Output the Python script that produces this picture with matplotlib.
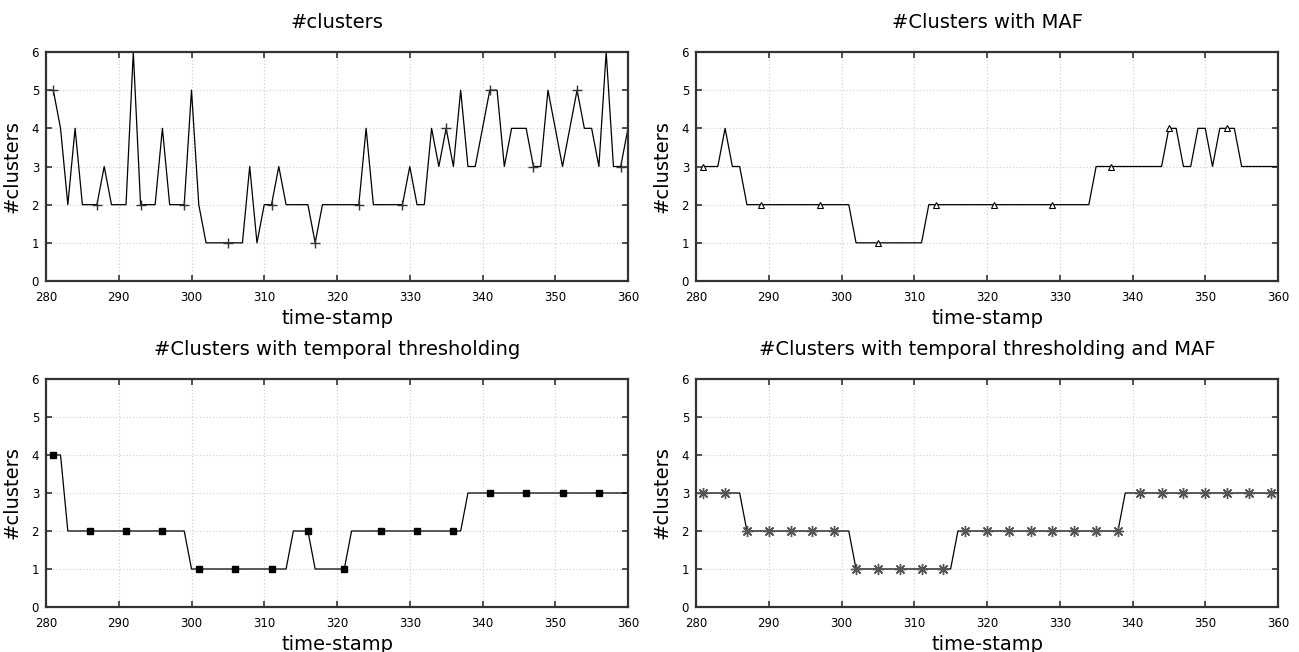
import numpy as np
import matplotlib
matplotlib.use('Agg')
import matplotlib.pyplot as plt

# eixo x comum: time-stamps 281..360
time_stamp = list(range(281, 361))

clusters = [5, 4, 2, 4, 2, 2, 2, 3, 2, 2, 2, 6, 2, 2, 2, 4, 2, 2, 2, 5,
            2, 1, 1, 1, 1, 1, 1, 3, 1, 2, 2, 3, 2, 2, 2, 2, 1, 2, 2, 2,
            2, 2, 2, 4, 2, 2, 2, 2, 2, 3, 2, 2, 4, 3, 4, 3, 5, 3, 3, 4,
            5, 5, 3, 4, 4, 4, 3, 3, 5, 4, 3, 4, 5, 4, 4, 3, 6, 3, 3, 4]

clusters_maf = ([3, 3, 3, 4, 3, 3] + [2] * 15 + [1] * 10 + [2] * 23 + [3] * 10 +
                [4, 4, 3, 3, 4, 4, 3, 4, 4, 4] + [3] * 6)

clusters_temp = [4, 4] + [2] * 17 + [1] * 14 + [2] * 3 + [1] * 5 + [2] * 16 + [3] * 23

clusters_temp_maf = [3] * 6 + [2] * 15 + [1] * 14 + [2] * 23 + [3] * 22

titulos = ['#clusters', '#Clusters with MAF',
           '#Clusters with temporal thresholding',
           '#Clusters with temporal thresholding and MAF']
series = [clusters, clusters_maf, clusters_temp, clusters_temp_maf]

estilos = [
    dict(marker='+', markersize=7, markeredgecolor='#333333', markevery=6),
    dict(marker='^', markersize=4, markerfacecolor='white', markeredgecolor='black',
         markeredgewidth=0.8, markevery=8),
    dict(marker='s', markersize=5, markerfacecolor='black', markeredgecolor='black',
         markevery=5),
    dict(marker=(8, 2, 0), markersize=8, markeredgecolor='#555555',
         markeredgewidth=1.0, markevery=3),
]

posicoes = [
    [46 / 1299, 1 - 281 / 652, 582 / 1299, 229 / 652],
    [696 / 1299, 1 - 281 / 652, 582 / 1299, 229 / 652],
    [46 / 1299, 1 - 607 / 652, 582 / 1299, 228 / 652],
    [696 / 1299, 1 - 607 / 652, 582 / 1299, 228 / 652],
]

fig = plt.figure(figsize=(12.99, 6.52), dpi=100)

for pos, titulo, y, est in zip(posicoes, titulos, series, estilos):
    ax = fig.add_axes(pos)
    ax.plot(time_stamp, y, color='black', linewidth=0.9, **est)
    ax.set_xlim(280, 360)
    ax.set_ylim(0, 6)
    ax.set_xticks(range(280, 361, 10))
    ax.set_yticks(range(0, 7))
    ax.grid(True, linestyle=(0, (1, 2)), color='#cccccc', linewidth=0.8)
    ax.tick_params(direction='in', top=True, right=True, length=4, width=1.2,
                   labelsize=8.5, color='#333333')
    ax.tick_params(axis='x', pad=7)
    ax.tick_params(axis='y', pad=5)
    for sp in ax.spines.values():
        sp.set_linewidth(1.6)
        sp.set_color('#333333')
    ax.set_title(titulo, fontsize=14, pad=17.5)
    ax.set_xlabel('time-stamp', fontsize=14, labelpad=4)
    ax.set_ylabel('#clusters', fontsize=14, labelpad=7)

plt.savefig('out.png', dpi=100)
plt.close()
